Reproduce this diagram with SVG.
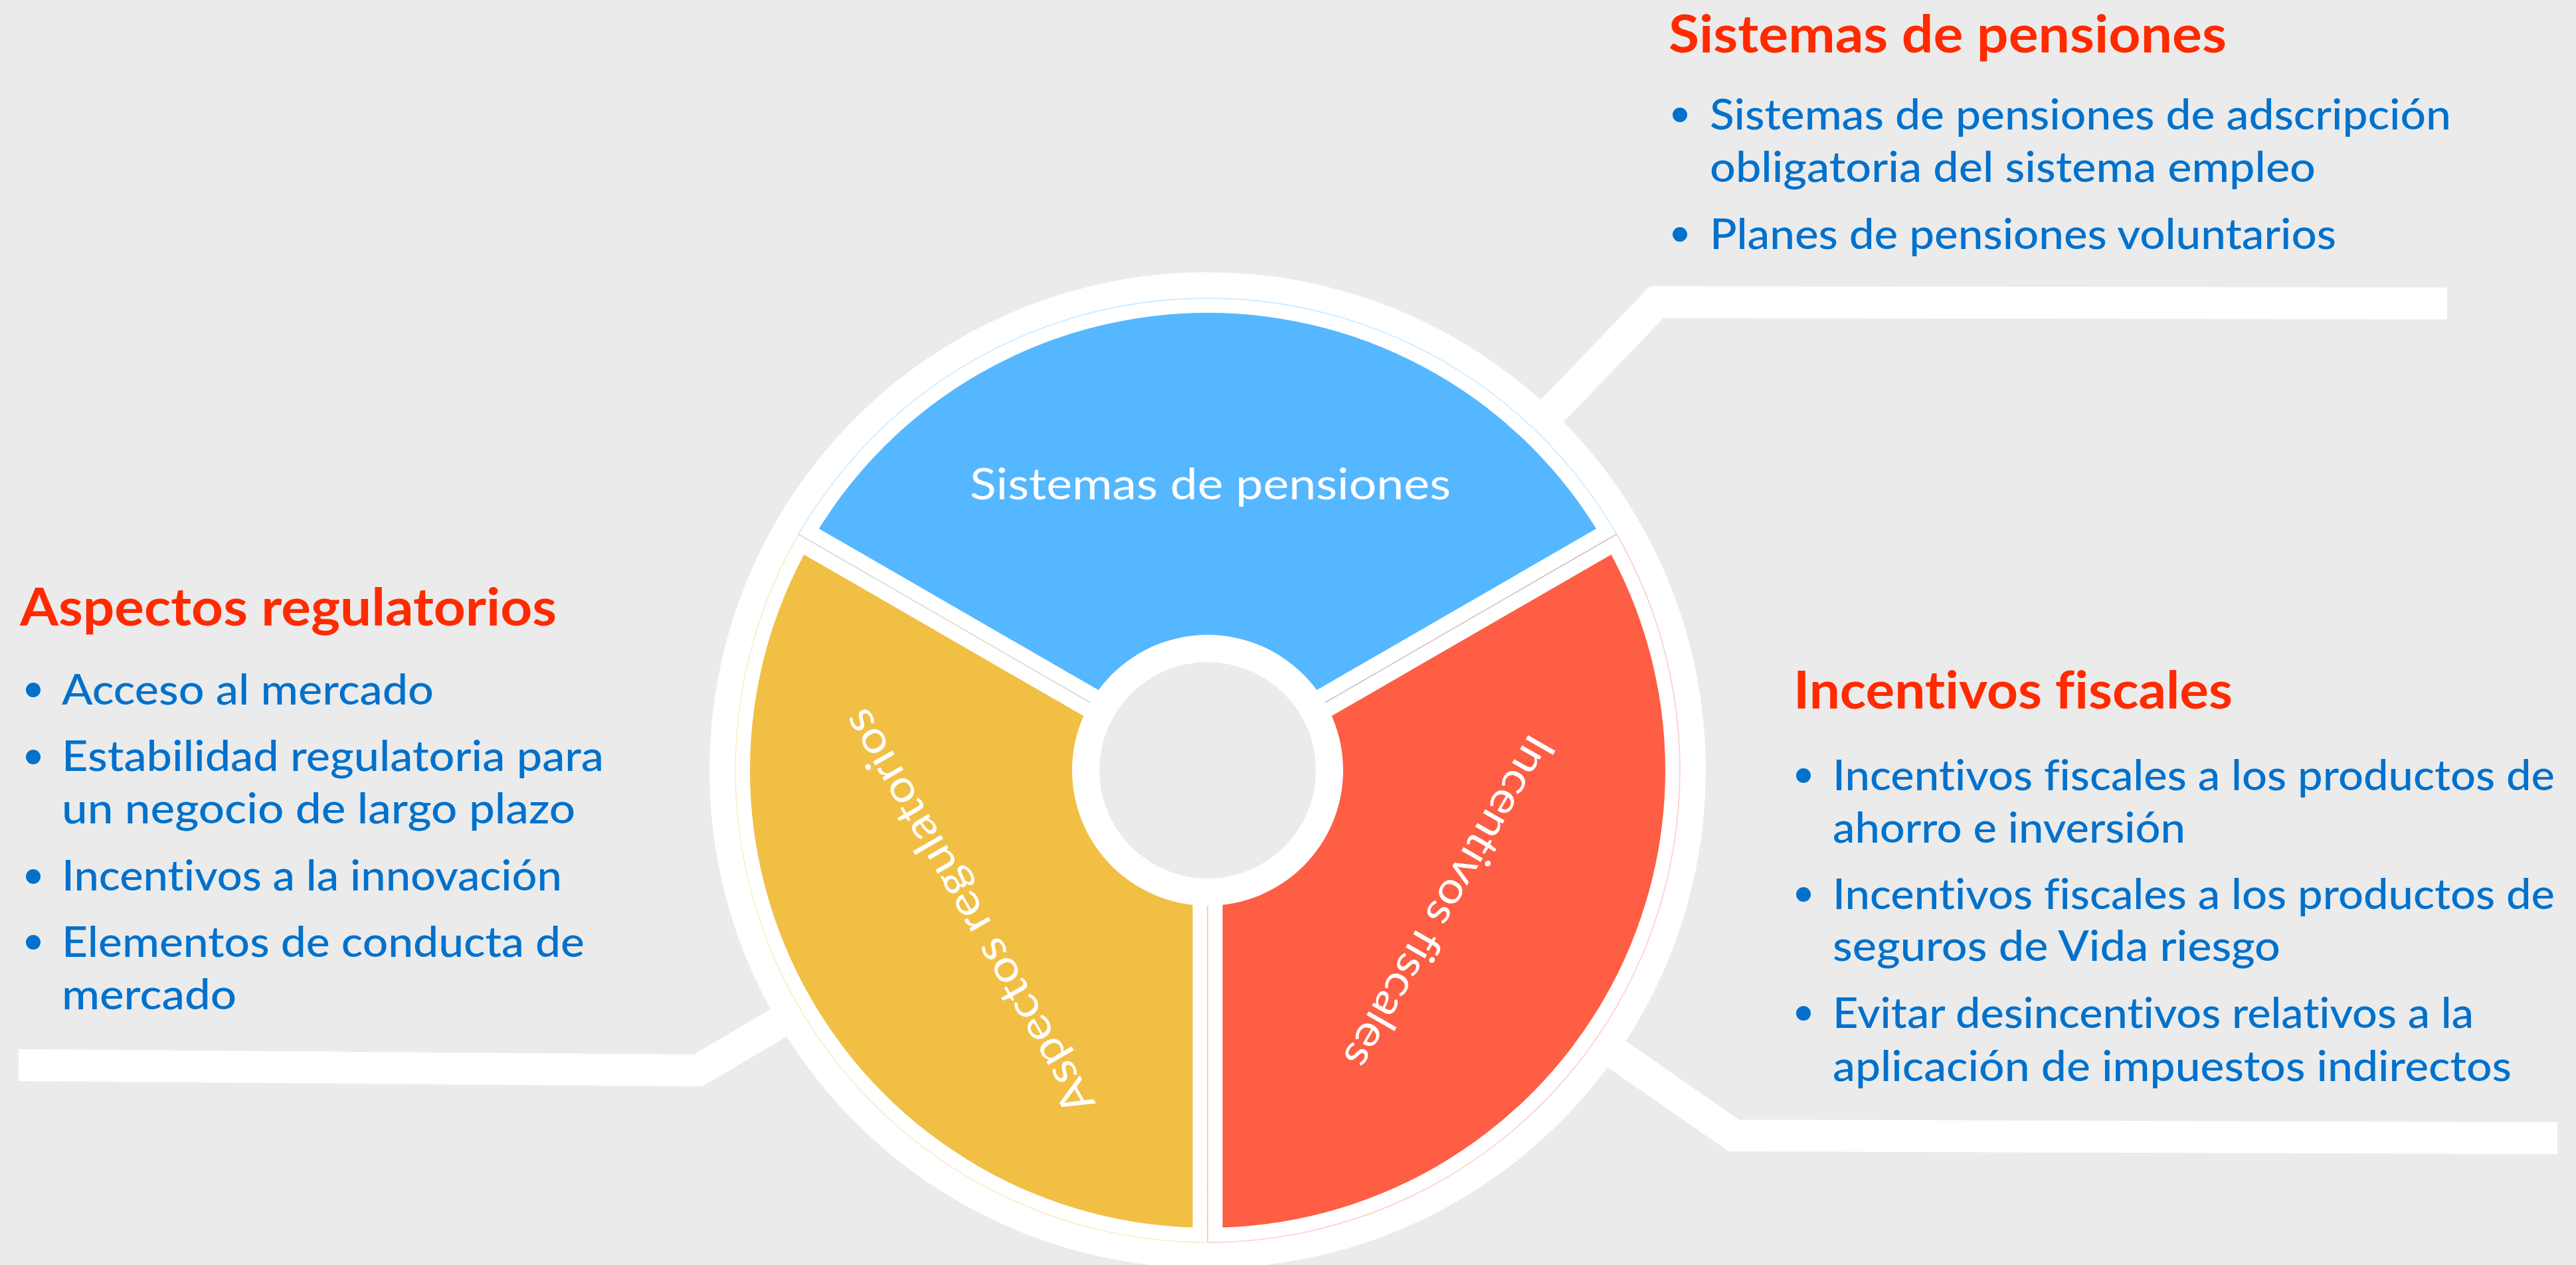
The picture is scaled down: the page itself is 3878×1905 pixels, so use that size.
<svg xmlns="http://www.w3.org/2000/svg" width="3878" height="1905" viewBox="0 0 3878 1905">
<style>
.bg{fill:#EBEBEB}
.conn{fill:none;stroke:#FFFFFF;stroke-width:48;stroke-linejoin:miter;stroke-linecap:butt}
.gap{stroke:#FFFFFF;stroke-width:45;stroke-linecap:butt}
.halo{fill:none;stroke-width:1.6;stroke-opacity:0.3}
text{font-variant-ligatures:none}
.title{font-family:Lato,"Liberation Sans",sans-serif;font-weight:700;font-size:78px;fill:#FF2A00}
.body{font-family:Lato,"Liberation Sans",sans-serif;font-weight:500;font-size:64px;fill:#0071CC}
.bul{fill:#0071CC}
.lbl{font-family:Lato,"Liberation Sans",sans-serif;font-weight:400;font-size:66px;fill:#FFFFFF}
</style>
<rect class="bg" x="0" y="0" width="3878" height="1905"/>

<g id="connectors">
  <polyline class="conn" points="2302,655 2494,455 3684,457"/>
  <polyline class="conn" points="28,1604 1051,1612 1215,1515"/>
  <polyline class="conn" points="2393,1559 2610,1710 3850,1714"/>
</g>

<g id="wheel">
  <circle cx="1818" cy="1160" r="750" fill="#FFFFFF"/>
</g>

<g id="seg-pensiones">
  <path fill="#55B7FF" d="M1221.3,815.5 A689,689 0 0 1 2414.7,815.5 L1982.5,1065 A190,190 0 0 0 1653.5,1065 Z"/>
</g>
<g id="seg-incentivos">
  <path fill="#FD5E44" d="M2414.7,815.5 A689,689 0 0 1 1818,1849 L1818,1350 A190,190 0 0 0 1982.5,1065 Z"/>
</g>
<g id="seg-regulatorios">
  <path fill="#F2BF45" d="M1818,1849 A689,689 0 0 1 1221.3,815.5 L1653.5,1065 A190,190 0 0 0 1818,1350 Z"/>
</g>

<g id="wheel-gaps">
  <line class="gap" x1="1818" y1="1160" x2="1194.5" y2="800"/>
  <line class="gap" x1="1818" y1="1160" x2="2441.5" y2="800"/>
  <line class="gap" x1="1818" y1="1160" x2="1818" y2="1880"/>
  <path class="halo" stroke="#55B7FF" d="M1202.3,804.5 A711,711 0 0 1 2433.7,804.5 L1994.7,1058 M1641.3,1058 L1202.3,804.5"/>
  <path class="halo" stroke="#FD5E44" d="M2433.7,804.5 A711,711 0 0 1 1818,1871 L1818,1364 M1994.7,1058 L2433.7,804.5"/>
  <path class="halo" stroke="#F2BF45" d="M1818,1871 A711,711 0 0 1 1202.3,804.5 L1641.3,1058 M1818,1364 L1818,1871"/>
  <circle cx="1818" cy="1160" r="204" fill="#FFFFFF"/>
  <circle cx="1818" cy="1160" r="163" fill="#EBEBEB"/>
</g>

<g id="label-pensiones">
  <text class="lbl" x="1822" y="752" text-anchor="middle" textLength="724" lengthAdjust="spacingAndGlyphs">Sistemas de pensiones</text>
</g>
<g id="label-regulatorios">
  <text class="lbl" transform="translate(1477,1362) rotate(240)" x="0" y="0" text-anchor="middle" textLength="692" lengthAdjust="spacingAndGlyphs">Aspectos regulatorios</text>
</g>
<g id="label-incentivos">
  <text class="lbl" transform="translate(2162,1347) rotate(120)" x="0" y="0" text-anchor="middle" textLength="567" lengthAdjust="spacingAndGlyphs">Incentivos fiscales</text>
</g>

<g id="panel-pensiones">
  <text class="title" x="2512" y="79" textLength="840" lengthAdjust="spacingAndGlyphs">Sistemas de pensiones</text>
  <circle class="bul" cx="2529" cy="173" r="11"/>
  <text class="body" x="2574" y="195" textLength="1116" lengthAdjust="spacingAndGlyphs">Sistemas de pensiones de adscripción</text>
  <text class="body" x="2574" y="274" textLength="912" lengthAdjust="spacingAndGlyphs">obligatoria del sistema empleo</text>
  <circle class="bul" cx="2529" cy="353" r="11"/>
  <text class="body" x="2574" y="375" textLength="943" lengthAdjust="spacingAndGlyphs">Planes de pensiones voluntarios</text>
</g>

<g id="panel-regulatorios">
  <text class="title" x="30" y="942" textLength="808" lengthAdjust="spacingAndGlyphs">Aspectos regulatorios</text>
  <circle class="bul" cx="50" cy="1039" r="11"/>
  <text class="body" x="93" y="1061" textLength="560" lengthAdjust="spacingAndGlyphs">Acceso al mercado</text>
  <circle class="bul" cx="50" cy="1140" r="11"/>
  <text class="body" x="93" y="1161" textLength="816" lengthAdjust="spacingAndGlyphs">Estabilidad regulatoria para</text>
  <text class="body" x="93" y="1240" textLength="773" lengthAdjust="spacingAndGlyphs">un negocio de largo plazo</text>
  <circle class="bul" cx="50" cy="1320" r="11"/>
  <text class="body" x="93" y="1341" textLength="753" lengthAdjust="spacingAndGlyphs">Incentivos a la innovación</text>
  <circle class="bul" cx="50" cy="1419" r="11"/>
  <text class="body" x="93" y="1441" textLength="787" lengthAdjust="spacingAndGlyphs">Elementos de conducta de</text>
  <text class="body" x="93" y="1520" textLength="263" lengthAdjust="spacingAndGlyphs">mercado</text>
</g>

<g id="panel-incentivos">
  <text class="title" x="2700" y="1067" textLength="661" lengthAdjust="spacingAndGlyphs">Incentivos fiscales</text>
  <circle class="bul" cx="2715" cy="1168" r="11"/>
  <text class="body" x="2759" y="1190" textLength="1087" lengthAdjust="spacingAndGlyphs">Incentivos fiscales a los productos de</text>
  <text class="body" x="2759" y="1269" textLength="531" lengthAdjust="spacingAndGlyphs">ahorro e inversión</text>
  <circle class="bul" cx="2715" cy="1347" r="11"/>
  <text class="body" x="2759" y="1369" textLength="1087" lengthAdjust="spacingAndGlyphs">Incentivos fiscales a los productos de</text>
  <text class="body" x="2759" y="1447" textLength="674" lengthAdjust="spacingAndGlyphs">seguros de Vida riesgo</text>
  <circle class="bul" cx="2715" cy="1526" r="11"/>
  <text class="body" x="2759" y="1548" textLength="965" lengthAdjust="spacingAndGlyphs">Evitar desincentivos relativos a la</text>
  <text class="body" x="2759" y="1628" textLength="1022" lengthAdjust="spacingAndGlyphs">aplicación de impuestos indirectos</text>
</g>
</svg>
